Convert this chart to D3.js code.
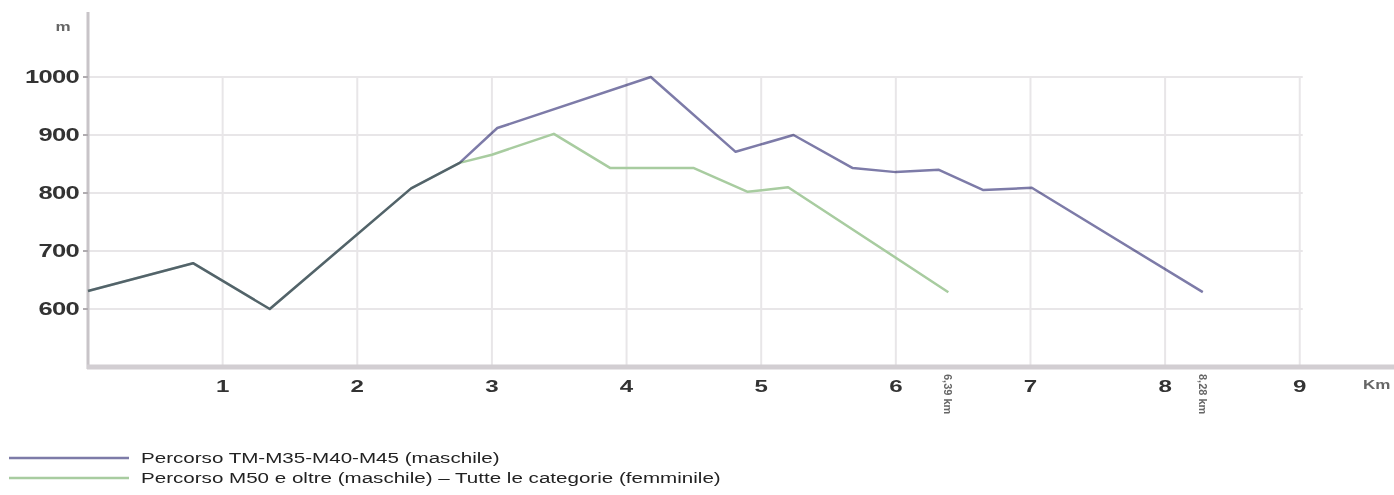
<!DOCTYPE html>
<html>
<head>
<meta charset="utf-8">
<script src="https://cdn.jsdelivr.net/npm/d3@7"></script>
<style>
  body { margin: 0; background: #fff; }
  text { font-family: "Liberation Sans", Arial, sans-serif; }
</style>
</head>
<body>
<div id="chart"></div>
<script>
// Altimetric profile data (km, metres)
const menKm = [0, 0.78, 1.35, 2.4, 2.76, 3.04, 4.18, 4.81, 5.24, 5.68, 6.0, 6.32, 6.65, 7.01, 8.28];
const menAlt = [631, 679, 600, 808, 852, 912, 1000, 871, 900, 843, 836, 840, 805, 809, 629];
const womenKm = [0, 0.78, 1.35, 2.4, 2.76, 3.0, 3.46, 3.88, 4.5, 4.9, 5.2, 6.39];
const womenAlt = [631, 679, 600, 808, 852, 866, 902, 843, 843, 802, 810, 629];

const xTicks = [1, 2, 3, 4, 5, 6, 7, 8, 9];
const yTicks = [600, 700, 800, 900, 1000];
const finishKm = [6.39, 8.28];
const finishLabels = ["6,39 km", "8,28 km"];
const seriesNames = [
    "Percorso TM-M35-M40-M45 (maschile)",
    "Percorso M50 e oltre (maschile) \u2013 Tutte le categorie (femminile)"
];
const seriesColors = ["#7d7ba8", "#a8cca0"];

const width = 1394, height = 495;
const stretch = 1.42; // the original text looks horizontally widened

const svg = d3.select("#chart").append("svg")
    .attr("width", width)
    .attr("height", height);

// Scales
const x = d3.scaleLinear().domain([0, 9.7]).range([88, 1394]);
const y = d3.scaleLinear().domain([500, 1000]).range([367, 77]);

// Grid
svg.append("g").selectAll("line")
    .data(yTicks)
  .enter().append("line")
    .attr("x1", x(0)).attr("x2", x(9) + 3)
    .attr("y1", d => y(d)).attr("y2", d => y(d))
    .attr("stroke", "#e8e6e8")
    .attr("stroke-width", 2);

svg.append("g").selectAll("line")
    .data(xTicks)
  .enter().append("line")
    .attr("x1", d => x(d)).attr("x2", d => x(d))
    .attr("y1", y(1000)).attr("y2", y(500))
    .attr("stroke", "#e8e6e8")
    .attr("stroke-width", 2);

// Axes
svg.append("line")
    .attr("x1", x(0)).attr("x2", x(0))
    .attr("y1", 12).attr("y2", y(500) + 2)
    .attr("stroke", "#c8c4c8")
    .attr("stroke-width", 3);

svg.append("line")
    .attr("x1", x(0) - 1).attr("x2", width)
    .attr("y1", y(500)).attr("y2", y(500))
    .attr("stroke", "#d2ced2")
    .attr("stroke-width", 5);

// small ticks
svg.append("g").selectAll("line")
    .data(yTicks)
  .enter().append("line")
    .attr("x1", x(0) - 5).attr("x2", x(0))
    .attr("y1", d => y(d)).attr("y2", d => y(d))
    .attr("stroke", "#b0acb0")
    .attr("stroke-width", 2);

// Tick labels
svg.append("g").selectAll("text")
    .data(yTicks)
  .enter().append("text")
    .attr("transform", d => "translate(79," + y(d) + ") scale(" + stretch + ",1)")
    .attr("dy", ".36em")
    .attr("text-anchor", "end")
    .attr("font-size", "18px")
    .attr("font-weight", "bold")
    .attr("letter-spacing", "-0.5px")
    .attr("fill", "#333")
    .text(d => d);

svg.append("g").selectAll("text")
    .data(xTicks)
  .enter().append("text")
    .attr("transform", d => "translate(" + x(d) + ",392) scale(" + stretch + ",1)")
    .attr("text-anchor", "middle")
    .attr("font-size", "17px")
    .attr("font-weight", "bold")
    .attr("fill", "#333")
    .text(d => d);

svg.append("text")
    .attr("transform", "translate(63,31) scale(" + stretch + ",1)")
    .attr("text-anchor", "middle")
    .attr("font-size", "12px")
    .attr("font-weight", "bold")
    .attr("fill", "#666")
    .text("m");

svg.append("text")
    .attr("transform", "translate(1363,389) scale(" + stretch + ",1)")
    .attr("font-size", "12px")
    .attr("font-weight", "bold")
    .attr("fill", "#666")
    .text("Km");

// Finish labels (vertical)
svg.append("g").selectAll("text")
    .data(finishKm)
  .enter().append("text")
    .attr("transform", d => "translate(" + (x(d) - 4) + ",374) rotate(90)")
    .attr("font-size", "11px")
    .attr("font-weight", "bold")
    .attr("fill", "#666")
    .text((d, i) => finishLabels[i]);

// Lines
const line = d3.line()
    .x(d => x(d[0]))
    .y(d => y(d[1]));

const womenData = womenKm.map((k, i) => [k, womenAlt[i]]);
const menData = menKm.map((k, i) => [k, menAlt[i]]);

svg.append("path")
    .datum(womenData)
    .attr("fill", "none")
    .attr("stroke", seriesColors[1])
    .attr("stroke-width", 2.5)
    .attr("stroke-linejoin", "round")
    .attr("d", line);

svg.append("path")
    .datum(menData)
    .attr("fill", "none")
    .attr("stroke", seriesColors[0])
    .attr("stroke-width", 2.5)
    .attr("stroke-linejoin", "round")
    .style("mix-blend-mode", "multiply")
    .attr("d", line);

// Legend
const legend = svg.append("g");
seriesNames.forEach((name, i) => {
    legend.append("line")
        .attr("x1", 9).attr("x2", 129)
        .attr("y1", 458 + i * 20).attr("y2", 458 + i * 20)
        .attr("stroke", seriesColors[i])
        .attr("stroke-width", 2.5);
    legend.append("text")
        .attr("transform", "translate(141," + (458 + i * 20) + ") scale(1.47,1)")
        .attr("dy", ".35em")
        .attr("font-size", "14px")
        .attr("fill", "#222")
        .text(name);
});
</script>
</body>
</html>
